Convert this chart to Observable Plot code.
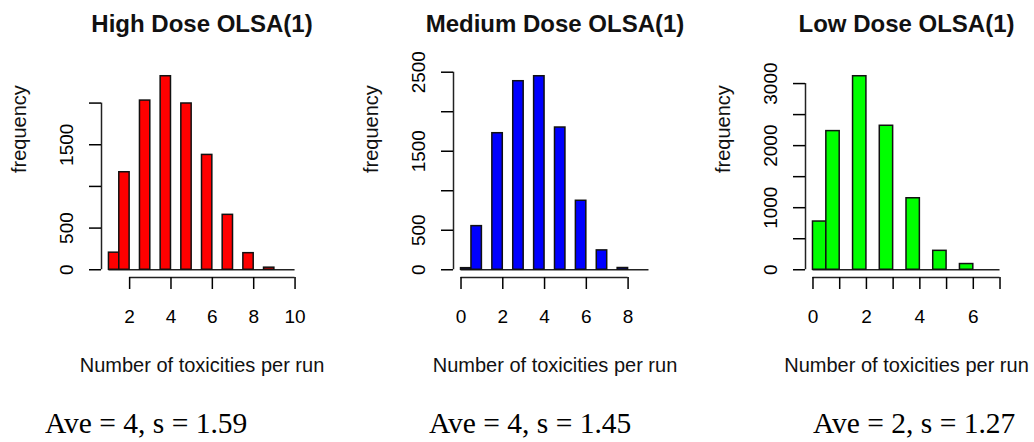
<!DOCTYPE html>
<html>
<head>
<meta charset="utf-8">
<script src="https://cdn.jsdelivr.net/npm/d3@7"></script>
<script src="https://cdn.jsdelivr.net/npm/@observablehq/plot@0.6"></script>
<style>
  body { margin: 0; background: #fff; }
  #wrap { position: relative; width: 1034px; height: 442px; overflow: hidden; background: #fff;
          font-family: Arial, "Liberation Sans", sans-serif; }
  .panel { position: absolute; top: 0; }
  .ave { position: absolute; top: 408px; line-height: 30px; white-space: nowrap;
         font-family: "Times New Roman", "Liberation Serif", serif; font-size: 29.5px; color: #000; }
</style>
</head>
<body>
<div id="wrap"></div>
<script>
// ---------- data ----------
const titles = ["High Dose OLSA(1)", "Medium Dose OLSA(1)", "Low Dose OLSA(1)"];
const colors = ["#ff0000", "#0000ff", "#00ff00"];

const highValues = [1, 2, 3, 4, 5, 6, 7, 8, 9];
const highCounts = [205, 1170, 2030, 2322, 1995, 1378, 659, 199, 25];

const mediumValues = [0, 1, 2, 3, 4, 5, 6, 7, 8];
const mediumCounts = [20, 552, 1728, 2386, 2449, 1800, 873, 245, 22];

const lowValues = [0, 1, 2, 3, 4, 5, 6];
const lowCounts = [777, 2234, 3118, 2320, 1152, 305, 92];

const breakRanges = [[1, 10], [0, 9], [0, 7]];

const xTicks = [[2, 4, 6, 8, 10], [0, 2, 4, 6, 8], [0, 1, 2, 3, 4, 5, 6, 7]];
const xTickLabels = [[2, 4, 6, 8, 10], [0, 2, 4, 6, 8], [0, 2, 4, 6]];
const yTicks = [[0, 500, 1000, 1500, 2000], [0, 500, 1000, 1500, 2000, 2500], [0, 500, 1000, 1500, 2000, 2500, 3000]];
const yTickLabels = [[0, 500, 1500], [0, 500, 1500, 2500], [0, 1000, 2000, 3000]];

const xLabel = "Number of toxicities per run";
const yLabel = "frequency";
const aveTexts = ["Ave = 4, s = 1.59", "Ave = 4, s = 1.45", "Ave = 2, s = 1.27"];

// ---------- layout ----------
const panelLeft = [0, 345, 690];
const panelWidth = [345, 345, 344];
const marginLefts = [101, 108, 115];
const marginRights = [43, 34, 27];
const aveLeft = [45, 429, 813];
const H = 400, MT = 68, MB = 123;

const series = [
  [highValues, highCounts],
  [mediumValues, mediumCounts],
  [lowValues, lowCounts]
];

const wrap = document.getElementById("wrap");

series.forEach(([values, counts], p) => {
  // R-style histogram bins: first bin includes its lower break
  const bins = values.map((v, i) => ({
    x1: i === 0 ? v : v - 0.5,
    x2: i === 0 ? v + 0.5 : v,
    count: counts[i]
  }));
  const [b0, b1] = breakRanges[p];
  const xd = [b0 - 0.04 * (b1 - b0), b1 + 0.04 * (b1 - b0)];
  const ymax = d3.max(counts);
  const yd = [-0.04 * ymax, 1.04 * ymax];
  const xt = xTicks[p], yt = yTicks[p];
  const xl = new Set(xTickLabels[p]), yl = new Set(yTickLabels[p]);

  const chart = Plot.plot({
    width: panelWidth[p],
    height: H,
    marginTop: MT,
    marginBottom: MB,
    marginLeft: marginLefts[p],
    marginRight: marginRights[p],
    x: { domain: xd },
    y: { domain: yd },
    style: { fontFamily: "Arial, 'Liberation Sans', sans-serif", background: "white", color: "black", overflow: "visible" },
    marks: [
      Plot.ruleY([0], { x1: b0, x2: b1, stroke: "#222", strokeWidth: 1.5 }),
      Plot.rect(bins, { x1: "x1", x2: "x2", y1: 0, y2: "count", fill: colors[p], stroke: "#111", strokeWidth: 1.5 }),
      Plot.ruleY([yd[0]], { x1: xt[0], x2: xt[xt.length - 1], stroke: "#222", strokeWidth: 1.5 }),
      Plot.ruleX([xd[0]], { y1: yt[0], y2: yt[yt.length - 1], stroke: "#222", strokeWidth: 1.5 }),
      Plot.axisX({ ticks: xt, tickSize: 12, tickPadding: 20, fontSize: 19, strokeWidth: 1.5,
                   tickFormat: d => xl.has(d) ? String(d) : "", label: null }),
      Plot.axisY({ ticks: yt, tickSize: 12, tickPadding: 17, tickRotate: -90, fontSize: 19, strokeWidth: 1.5,
                   tickFormat: d => yl.has(d) ? String(d) : "", label: null }),
      Plot.text([titles[p]], { frameAnchor: "top", dy: -37, lineAnchor: "bottom", fontWeight: "bold", fontSize: 24, fill: "#111" }),
      Plot.text([xLabel], { frameAnchor: "bottom", dy: 94, lineAnchor: "bottom", fontSize: 20, fill: "#111" }),
      Plot.text([yLabel], { frameAnchor: "left", dx: -82, rotate: -90, lineAnchor: "middle", fontSize: 20, fill: "#111" })
    ]
  });
  const div = document.createElement("div");
  div.className = "panel";
  div.style.left = panelLeft[p] + "px";
  div.appendChild(chart);
  wrap.appendChild(div);

  const ave = document.createElement("div");
  ave.className = "ave";
  ave.style.left = aveLeft[p] + "px";
  ave.textContent = aveTexts[p];
  wrap.appendChild(ave);
});
</script>
</body>
</html>
